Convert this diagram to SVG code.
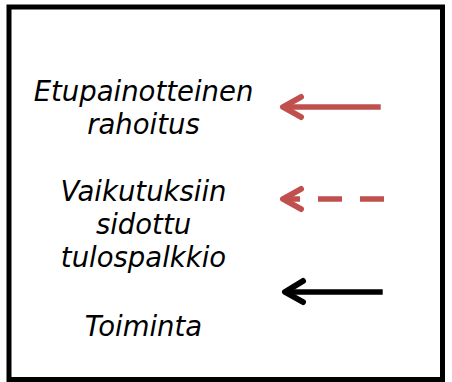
<svg xmlns="http://www.w3.org/2000/svg" width="452" height="382" viewBox="0 0 452 382">
<style>
.lbl{font-family:"DejaVu Sans",Verdana,sans-serif;font-style:italic;font-size:27.5px;fill:#000;text-anchor:middle}
.shaft{fill:none;stroke-width:5.5;stroke-linecap:butt}
.head{fill:none;stroke-width:6;stroke-linecap:round;stroke-linejoin:round}
.red{stroke:#C0504D}
.blk{stroke:#000}
</style>
<rect x="9" y="7" width="433.5" height="372.5" fill="#fff" stroke="#000" stroke-width="5"/>
<g id="node-etupainotteinen">
<text class="lbl" x="143.5" y="101">Etupainotteinen</text>
<text class="lbl" x="143.5" y="133.5">rahoitus</text>
</g>
<g id="node-vaikutuksiin">
<text class="lbl" x="143.5" y="201">Vaikutuksiin</text>
<text class="lbl" x="143.5" y="234">sidottu</text>
<text class="lbl" x="143.5" y="267">tulospalkkio</text>
</g>
<g id="node-toiminta">
<text class="lbl" x="143.5" y="335.5">Toiminta</text>
</g>
<g id="connectors">
<line class="shaft red" x1="380.7" y1="107" x2="283" y2="107"/>
<path class="head red" d="M301,97 L283,107 L301,117"/>
<line class="shaft red" x1="384" y1="199" x2="283" y2="199" stroke-dasharray="24 18"/>
<path class="head red" d="M301,189 L283,199 L301,209"/>
<line class="shaft blk" x1="382.7" y1="292" x2="285" y2="292"/>
<path class="head blk" d="M303,281 L285,292 L303,302"/>
</g>
</svg>
